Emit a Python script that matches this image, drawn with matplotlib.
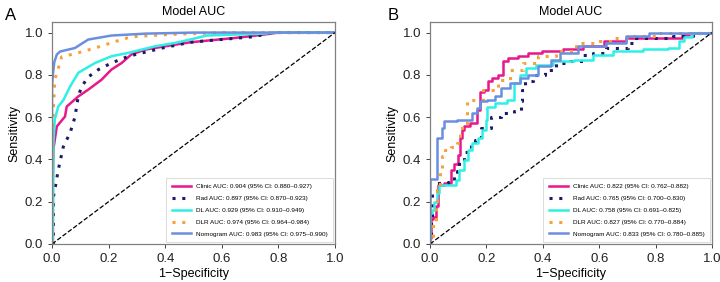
import matplotlib
matplotlib.use("Agg")
import matplotlib.pyplot as plt

# ---------------- Data ----------------
# Panel A
a_clinic_fpr = [0, 0.003, 0.003, 0.005, 0.017, 0.046, 0.052, 0.093, 0.128, 0.175, 0.21, 0.246, 0.28, 0.33, 0.488, 0.65, 0.746, 0.8, 1.0]
a_clinic_tpr = [0, 0.0, 0.30, 0.45, 0.556, 0.603, 0.65, 0.698, 0.73, 0.777, 0.825, 0.856, 0.896, 0.92, 0.954, 0.975, 0.99, 1.0, 1.0]
a_rad_fpr = [0, 0.005, 0.005, 0.01, 0.022, 0.04, 0.064, 0.081, 0.093, 0.105, 0.128, 0.164, 0.21, 0.27, 0.39, 0.488, 0.594, 0.71, 0.78, 1.0]
a_rad_tpr = [0, 0.0, 0.224, 0.256, 0.35, 0.46, 0.526, 0.60, 0.70, 0.745, 0.79, 0.825, 0.856, 0.888, 0.927, 0.954, 0.967, 0.98, 1.0, 1.0]
a_dl_fpr = [0, 0.003, 0.005, 0.01, 0.022, 0.04, 0.064, 0.093, 0.152, 0.21, 0.27, 0.364, 0.435, 0.488, 0.547, 0.746, 0.8, 1.0]
a_dl_tpr = [0, 0.0, 0.48, 0.59, 0.65, 0.68, 0.745, 0.81, 0.856, 0.888, 0.904, 0.935, 0.951, 0.967, 0.986, 0.995, 1.0, 1.0]
a_dlr_fpr = [0, 0.002, 0.01, 0.022, 0.034, 0.092, 0.152, 0.246, 0.28, 0.4, 0.6, 1.0]
a_dlr_tpr = [0, 0.55, 0.78, 0.83, 0.885, 0.904, 0.927, 0.967, 0.98, 0.99, 1.0, 1.0]
a_nom_fpr = [0, 0.0, 0.003, 0.008, 0.017, 0.028, 0.081, 0.128, 0.21, 0.33, 0.5, 1.0]
a_nom_tpr = [0, 0.745, 0.80, 0.86, 0.896, 0.91, 0.927, 0.967, 0.986, 0.995, 1.0, 1.0]

# Panel B
b_clinic_fpr = [0, 0.002, 0.006, 0.018, 0.024, 0.03, 0.07, 0.077, 0.094, 0.106, 0.11, 0.118, 0.124, 0.16, 0.171, 0.183, 0.2, 0.212, 0.23, 0.253, 0.265, 0.29, 0.336, 0.36, 0.436, 0.506, 0.577, 0.66, 0.73, 0.883, 0.907, 0.93, 1.0]
b_clinic_tpr = [0, 0.03, 0.12, 0.13, 0.18, 0.28, 0.29, 0.35, 0.38, 0.42, 0.50, 0.54, 0.556, 0.573, 0.635, 0.72, 0.73, 0.77, 0.785, 0.80, 0.864, 0.88, 0.89, 0.904, 0.911, 0.92, 0.935, 0.96, 0.975, 0.975, 0.99, 1.0, 1.0]
b_rad_fpr = [0, 0.005, 0.012, 0.035, 0.053, 0.077, 0.094, 0.1, 0.106, 0.135, 0.153, 0.165, 0.2, 0.23, 0.277, 0.318, 0.324, 0.33, 0.347, 0.383, 0.43, 0.465, 0.53, 0.554, 0.6, 0.648, 0.695, 0.707, 0.742, 0.813, 0.907, 0.96, 1.0]
b_rad_tpr = [0, 0.12, 0.248, 0.288, 0.288, 0.295, 0.32, 0.343, 0.39, 0.437, 0.47, 0.493, 0.548, 0.603, 0.62, 0.627, 0.675, 0.73, 0.77, 0.80, 0.825, 0.856, 0.864, 0.896, 0.904, 0.927, 0.927, 0.951, 0.975, 0.975, 0.986, 1.0, 1.0]
b_dl_fpr = [0, 0.0, 0.002, 0.012, 0.018, 0.03, 0.035, 0.088, 0.094, 0.11, 0.13, 0.141, 0.16, 0.177, 0.194, 0.2, 0.206, 0.253, 0.294, 0.3, 0.336, 0.347, 0.406, 0.465, 0.554, 0.6, 0.695, 0.813, 0.872, 0.894, 0.907, 0.954, 1.0]
b_dl_tpr = [0, 0.066, 0.147, 0.16, 0.20, 0.24, 0.28, 0.28, 0.303, 0.35, 0.398, 0.445, 0.477, 0.50, 0.54, 0.588, 0.65, 0.667, 0.682, 0.76, 0.80, 0.833, 0.848, 0.864, 0.872, 0.896, 0.911, 0.92, 0.927, 0.96, 0.98, 1.0, 1.0]
b_dlr_fpr = [0, 0.006, 0.018, 0.024, 0.028, 0.041, 0.047, 0.059, 0.088, 0.1, 0.11, 0.118, 0.141, 0.155, 0.224, 0.26, 0.306, 0.353, 0.412, 0.483, 0.554, 0.612, 0.695, 0.754, 0.85, 1.0]
b_dlr_tpr = [0, 0.04, 0.10, 0.18, 0.256, 0.35, 0.414, 0.445, 0.46, 0.477, 0.525, 0.564, 0.68, 0.68, 0.73, 0.777, 0.825, 0.856, 0.888, 0.911, 0.951, 0.959, 0.975, 0.986, 1.0, 1.0]
b_nom_fpr = [0, 0.0, 0.024, 0.024, 0.035, 0.047, 0.053, 0.135, 0.16, 0.17, 0.183, 0.218, 0.24, 0.265, 0.3, 0.336, 0.36, 0.406, 0.453, 0.47, 0.577, 0.67, 0.72, 0.836, 1.0]
b_nom_tpr = [0, 0.307, 0.307, 0.50, 0.50, 0.548, 0.58, 0.588, 0.62, 0.645, 0.675, 0.682, 0.698, 0.738, 0.76, 0.785, 0.80, 0.84, 0.872, 0.904, 0.935, 0.951, 0.982, 1.0, 1.0]

a_labels = ["Clinic AUC: 0.904 (95% CI: 0.880\u20130.927)",
            "Rad AUC: 0.897 (95% CI: 0.870\u20130.923)",
            "DL AUC: 0.929 (95% CI: 0.910\u20130.949)",
            "DLR AUC: 0.974 (95% CI: 0.964\u20130.984)",
            "Nomogram AUC: 0.983 (95% CI: 0.975\u20130.990)"]
b_labels = ["Clinic AUC: 0.822 (95% CI: 0.762\u20130.882)",
            "Rad AUC: 0.765 (95% CI: 0.700\u20130.830)",
            "DL AUC: 0.758 (95% CI: 0.691\u20130.825)",
            "DLR AUC: 0.827 (95% CI: 0.770\u20130.884)",
            "Nomogram AUC: 0.833 (95% CI: 0.780\u20130.885)"]

colors = ["#E8178A", "#1B1B6B", "#2EF0E6", "#F5A13C", "#6A8FE0"]
styles = ["-", (0, (1, 2.2)), "-", (0, (1, 2.2)), "-"]

plt.rcParams['font.family'] = ['Liberation Sans', 'DejaVu Sans']

fig = plt.figure(figsize=(7.2, 2.82), dpi=100)
axA = fig.add_axes([52/720, 38/282, 283/720, 222/282])
axB = fig.add_axes([430/720, 38/282, 282/720, 222/282])

panels = [
    (axA, [(a_clinic_fpr, a_clinic_tpr), (a_rad_fpr, a_rad_tpr), (a_dl_fpr, a_dl_tpr),
           (a_dlr_fpr, a_dlr_tpr), (a_nom_fpr, a_nom_tpr)], a_labels, "default"),
    (axB, [(b_clinic_fpr, b_clinic_tpr), (b_rad_fpr, b_rad_tpr), (b_dl_fpr, b_dl_tpr),
           (b_dlr_fpr, b_dlr_tpr), (b_nom_fpr, b_nom_tpr)], b_labels, "steps-mid"),
]

for ax, curves, labels, ds in panels:
    for (x, y), lab, c, ls in zip(curves, labels, colors, styles):
        lw = 2.2 if ls != "-" else 1.8
        ax.plot(x, y, color=c, linestyle=ls, linewidth=lw, label=lab, drawstyle=ds)
    ax.plot([0, 1], [0, 1], color="black", linestyle="--", linewidth=0.9)
    ax.set_xlim(0, 1)
    ax.set_ylim(0, 1.05)
    ax.set_xticks([0, 0.2, 0.4, 0.6, 0.8, 1.0])
    ax.set_yticks([0, 0.2, 0.4, 0.6, 0.8, 1.0])
    ax.tick_params(labelsize=9.5, length=3, width=0.6, colors="#222222")
    for sp in ax.spines.values():
        sp.set_color("#808080")
        sp.set_linewidth(0.9)
    ax.set_xlabel("1\u2212Specificity", fontsize=9, labelpad=2)
    ax.set_ylabel("Sensitivity", fontsize=9, labelpad=3)
    ax.set_title("Model AUC", fontsize=9, pad=5)
    leg = ax.legend(loc="lower right", fontsize=4.6, frameon=True, fancybox=False,
                    handlelength=3.0, borderpad=0.9, labelspacing=1.0,
                    borderaxespad=0.25, handletextpad=0.8)
    leg.get_frame().set_edgecolor("#cccccc")
    leg.get_frame().set_linewidth(0.6)

fig.text(5/720, 1 - 15/282, "A", fontsize=12, va="center", ha="left")
fig.text(388/720, 1 - 15/282, "B", fontsize=12, va="center", ha="left")

fig.savefig("out.png", dpi=100)
